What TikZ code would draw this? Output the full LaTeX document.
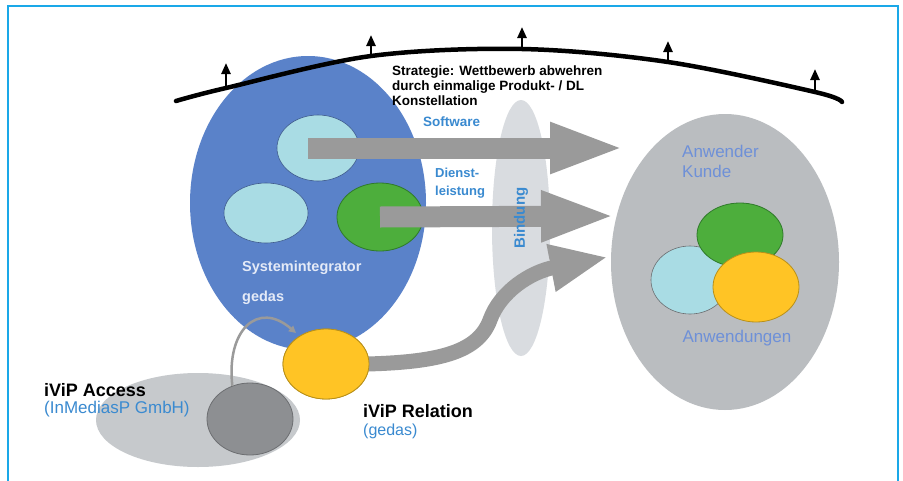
\documentclass[tikz,border=0pt]{standalone}
\usepackage{fontspec}
\setmainfont{Liberation Sans}
\usetikzlibrary{arrows.meta,shapes.geometric}
\definecolor{frameblue}{HTML}{1AA8E8}
\definecolor{sysblue}{HTML}{5A82C9}
\definecolor{lcyan}{HTML}{A9DCE4}
\definecolor{lgreen}{HTML}{4DAE3C}
\definecolor{dgreen}{HTML}{2F7A2A}
\definecolor{lyellow}{HTML}{FFC425}
\definecolor{dyellow}{HTML}{B8901A}
\definecolor{arrgray}{HTML}{9A9A9A}
\definecolor{kgray}{HTML}{BABDC0}
\definecolor{bindgray}{HTML}{D9DCE0}
\definecolor{accgray}{HTML}{C6C9CC}
\definecolor{darkg}{HTML}{8D8F92}
\definecolor{darkgline}{HTML}{6C6E71}
\definecolor{txtblue}{HTML}{3A8AD0}
\definecolor{kblue}{HTML}{6E90D8}
\definecolor{sitext}{HTML}{E4EAF7}
\tikzset{
  ell/.style={ellipse, inner sep=0pt, draw=none},
  bigarrow/.style={draw=arrgray, line width=21pt, -{Triangle[length=75pt,width=46pt]}},
  curvarrow/.style={draw=arrgray, line width=15pt, -{Triangle[length=58pt,width=44pt]}},
  thinarrow/.style={draw=arrgray, line width=2.5pt, -{Triangle[length=7pt,width=7pt]}},
  uparrow/.style={draw=black, line width=2.4pt, -{Triangle[length=11pt,width=9pt]}},
  lbl/.style={inner sep=0pt, anchor=west, font=\bfseries\fontsize{13.5}{15}\selectfont},
}
\begin{document}
\begin{tikzpicture}[x=1pt,y=-1pt]
\useasboundingbox (0,0) rectangle (903,480);
\clip (0,0) rectangle (903,480);
\fill[white] (0,0) rectangle (903,480);
\draw[frameblue, line width=2.2pt] (8,6) rectangle (898,492);

% Systemintegrator
\node[ell, fill=sysblue, minimum width=236pt, minimum height=294pt] (sysint) at (308,203) {};
\node[ell, fill=lcyan, draw=sysblue!70!black, line width=0.6pt, minimum width=82pt, minimum height=66pt] (sw) at (318,148) {};
\node[ell, fill=lcyan, draw=sysblue!70!black, line width=0.6pt, minimum width=84pt, minimum height=60pt] (cy2) at (266,213) {};
\node[ell, fill=lgreen, draw=dgreen, line width=0.8pt, minimum width=86pt, minimum height=68pt] (dl) at (380,217) {};

% Bindung
\node[ell, fill=bindgray, minimum width=58pt, minimum height=256pt] (bind) at (521,228) {};

% Anwender Kunde
\node[ell, fill=kgray, minimum width=228pt, minimum height=296pt] (kunde) at (725,262) {};
\node[ell, fill=lcyan, draw=darkgline, line width=0.6pt, minimum width=78pt, minimum height=68pt] (kcy) at (690,280) {};
\node[ell, fill=lgreen, draw=dgreen, line width=0.8pt, minimum width=86pt, minimum height=64pt] (kgr) at (740,235) {};
\node[ell, fill=lyellow, draw=dyellow, line width=0.8pt, minimum width=86pt, minimum height=70pt] (kye) at (756,287) {};

% iViP Access
\node[ell, fill=accgray, minimum width=204pt, minimum height=94pt] (acc) at (198,420) {};
\node[ell, fill=darkg, draw=darkgline, line width=0.8pt, minimum width=86pt, minimum height=72pt] (accd) at (250,419) {};

% thin arrow
\coordinate (relend) at (296,333);
\draw[thinarrow] (accd.118) .. controls (226,330) and (258,300) .. (relend);

% big arrows
\coordinate (t1) at (625,148);
\coordinate (t2) at (616,216);
\coordinate (t3) at (608,257);
\draw[bigarrow] ([xshift=-10pt]sw.center) -- (t1);
\draw[bigarrow] (dl.center) -- (t2);

% iViP Relation (yellow)
\node[ell, fill=lyellow, draw=dyellow, line width=0.8pt, minimum width=86pt, minimum height=70pt] (rel) at (326,364) {};
\draw[curvarrow] ([xshift=-2pt]rel.east) .. controls (440,362) and (478,352) .. (490,320) .. controls (500,292) and (530,272) .. (t3);
\node[ell, fill=lyellow, draw=dyellow, line width=0.8pt, minimum width=86pt, minimum height=70pt] at (326,364) {};

% strategy curve
\draw[black, line width=4.5pt, line cap=round] plot[smooth, tension=0.55] coordinates {(176,101) (226,88) (371,56) (522,49) (668,62) (815,92) (842,102)};
\draw[uparrow] (226,88) -- (226,63);
\draw[uparrow] (371,56) -- (371,35);
\draw[uparrow] (522,49) -- (522,27);
\draw[uparrow] (668,62) -- (668,41);
\draw[uparrow] (815,92) -- (815,69);

% texts
\node[lbl, anchor=north west, align=left] (strat) at (392,66) {Strategie: Wettbewerb abwehren\\durch einmalige Produkt- / DL\\Konstellation};
\node[lbl, text=txtblue] (swt) at (423,122) {Software};
\node[lbl, text=txtblue, anchor=north west, align=left, font=\bfseries\fontsize{13}{18}\selectfont] (dlt) at (435,168) {Dienst-\\leistung};
\node[lbl, text=sitext, font=\bfseries\fontsize{14.5}{18}\selectfont] (sit) at (242,268) {Systemintegrator};
\node[lbl, text=sitext, font=\bfseries\fontsize{14.5}{18}\selectfont] (ged) at (242,298) {gedas};
\node[inner sep=0pt, text=txtblue, rotate=90, font=\bfseries\fontsize{15}{18}\selectfont] (bindt) at (521,218) {Bindung};
\node[lbl, text=kblue, anchor=north west, align=left, font=\fontsize{17}{20}\selectfont] (kt) at (682,145) {Anwender\\Kunde};
\node[inner sep=0pt, text=kblue, font=\fontsize{17}{20}\selectfont] (awt) at (737,338) {Anwendungen};
\node[lbl, font=\bfseries\fontsize{18}{20}\selectfont] (acct) at (44,390) {iViP Access};
\node[lbl, text=txtblue, font=\fontsize{17}{20}\selectfont] (acct2) at (44,409) {(InMediasP GmbH)};
\node[lbl, font=\bfseries\fontsize{18}{20}\selectfont] (relt) at (363,411) {iViP Relation};
\node[lbl, text=txtblue, font=\fontsize{16}{20}\selectfont] (relt2) at (363,431) {(gedas)};
\end{tikzpicture}
\end{document}
